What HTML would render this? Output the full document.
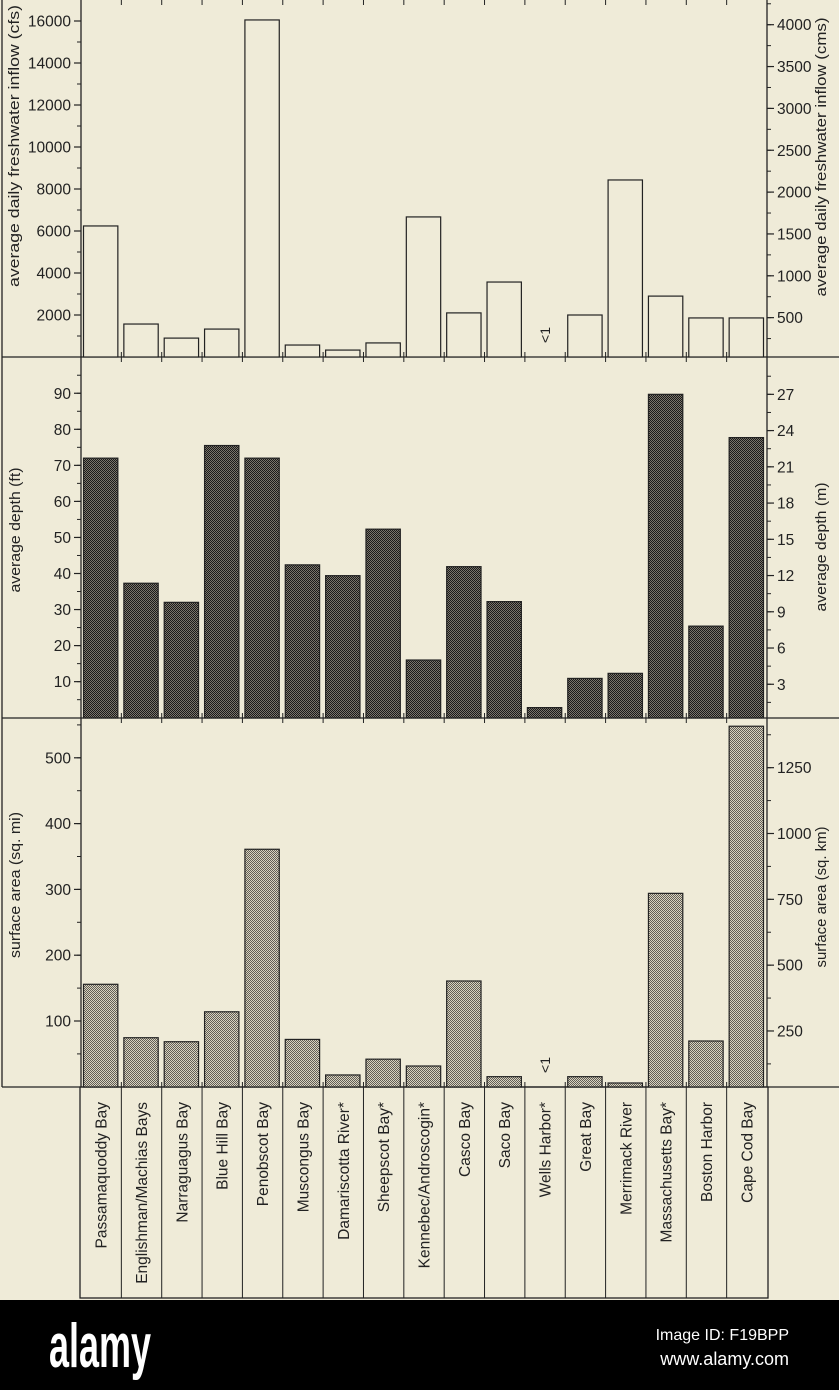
<!DOCTYPE html>
<html><head><meta charset="utf-8">
<style>
body{margin:0;background:#efebd8;}
svg{display:block;font-family:"Liberation Sans",Arial,sans-serif;}
</style></head>
<body>
<svg id="chart" width="839" height="1390" viewBox="0 0 839 1390" xmlns="http://www.w3.org/2000/svg">
<defs>
<pattern id="darkPat" width="2" height="2" patternUnits="userSpaceOnUse"><rect width="2" height="2" fill="#7a756b"/><rect width="1" height="1" fill="#1a1a1a"/><rect x="1" y="1" width="1" height="1" fill="#1a1a1a"/></pattern>
<pattern id="lightPat" width="2" height="2" patternUnits="userSpaceOnUse"><rect width="2" height="2" fill="#d8d3c0"/><rect width="1" height="1" fill="#625e56"/><rect x="1" y="1" width="1" height="1" fill="#625e56"/></pattern>
</defs>
<rect x="0" y="0" width="839" height="1300" fill="#efebd8"/>
<g id="frame" stroke="#222" stroke-width="1.3" fill="none">
<line x1="2" y1="0" x2="2" y2="1087"/>
<line x1="2" y1="357" x2="839" y2="357"/>
<line x1="2" y1="718" x2="839" y2="718"/>
<line x1="2" y1="1087" x2="839" y2="1087"/>
<line x1="81" y1="0" x2="81" y2="1087"/>
<line x1="767" y1="0" x2="767" y2="1087"/>
<rect x="80" y="1087" width="688" height="211"/>
</g>
<g id="panels"></g>
<g id="labels"></g>
<rect x="0" y="1300" width="839" height="90" fill="#000"/>
<text x="49" y="1367" fill="#fff" font-size="62" font-weight="bold" textLength="102" lengthAdjust="spacingAndGlyphs">alamy</text>
<text x="789" y="1340" fill="#fff" font-size="16" text-anchor="end">Image ID: F19BPP</text>
<text x="789" y="1365" fill="#fff" font-size="18" text-anchor="end">www.alamy.com</text>
</svg>
<script>
const categories = ["Passamaquoddy Bay","Englishman/Machias Bays","Narraguagus Bay","Blue Hill Bay","Penobscot Bay","Muscongus Bay","Damariscotta River*","Sheepscot Bay*","Kennebec/Androscogin*","Casco Bay","Saco Bay","Wells Harbor*","Great Bay","Merrimack River","Massachusetts Bay*","Boston Harbor","Cape Cod Bay"];
const inflowCfs = [6240,1570,900,1330,16050,570,330,670,6670,2100,3570,0,2000,8430,2900,1860,1860];
const depthFt = [72,37.3,32,75.5,72,42.4,39.4,52.3,16,41.9,32.2,2.8,10.9,12.3,89.7,25.4,77.7];
const areaSqMi = [155.8,74.6,68.5,114,361,72,18,42,31.6,160.8,15.4,0,15.4,5.8,294,69.6,548];
const inflowLeftTicks = [2000,4000,6000,8000,10000,12000,14000,16000];
const inflowRightTicks = [500,1000,1500,2000,2500,3000,3500,4000];
const depthLeftTicks = [10,20,30,40,50,60,70,80,90];
const depthRightTicks = [3,6,9,12,15,18,21,24,27];
const areaLeftTicks = [100,200,300,400,500];
const areaRightTicks = [250,500,750,1000,1250];

const NS="http://www.w3.org/2000/svg";
const X0=81, X1=767, N=categories.length, CW=(X1-X0)/N;
const xBand = i => X0 + i*CW;
function mk(tag, attrs, parent){const e=document.createElementNS(NS,tag);for(const k in attrs)e.setAttribute(k,attrs[k]);parent.appendChild(e);return e;}
const panelsG=document.getElementById('panels');

const panels=[
 {name:'inflow',top:0,base:357,vals:inflowCfs,lScale:0.021,lZero:357,rScale:0.0837,rZero:359.5,lT:inflowLeftTicks,lMinor:1000,lMax:17000,rT:inflowRightTicks,rMinor:250,rMax:4250,fill:'#efebd8',lTitle:'average daily freshwater inflow (cfs)',rTitle:'average daily freshwater inflow (cms)',lTx:19,rTx:826,lC:146,lL:282,rC:157,rL:279},
 {name:'depth',top:357,base:718,vals:depthFt,lScale:3.605,lZero:717.7,rScale:12.08,rZero:720.5,lT:depthLeftTicks,lMinor:5,lMax:95,rT:depthRightTicks,rMinor:1.5,rMax:28.5,fill:'url(#darkPat)',lTitle:'average depth (ft)',rTitle:'average depth (m)',lTx:20,rTx:826,lC:530,lL:125,rC:547,rL:129},
 {name:'area',top:718,base:1087,vals:areaSqMi,lScale:0.658,lZero:1086.8,rScale:0.2633,rZero:1096.8,lT:areaLeftTicks,lMinor:50,lMax:550,rT:areaRightTicks,rMinor:125,rMax:1375,fill:'url(#lightPat)',lTitle:'surface area (sq. mi)',rTitle:'surface area (sq. km)',lTx:20,rTx:826,lC:885,lL:146,rC:897,rL:141}
];

panels.forEach(p=>{
 const g=mk('g',{},panelsG);
 
 
 const yL=v=>p.lZero - v*p.lScale;
 const yR=v=>p.rZero - v*p.rScale;
 p.vals.forEach((v,i)=>{
  const x=xBand(i)+2.5, w=CW-6;
  if(v>0){
   const r=mk('rect',{x:x,y:yL(v),width:w,height:p.base-yL(v),fill:p.fill,stroke:'#222','stroke-width':1.2},g);
   
   
  } else {
   const t=mk('text',{x:0,y:0,'font-size':14,fill:'#222','text-anchor':'middle',transform:`translate(${xBand(i)+CW/2+5},${p.base-22}) rotate(-90)`},g);
   t.textContent='<1';
   
   
  }
 });
 for(let i=1;i<N;i++){
  mk('line',{x1:xBand(i),x2:xBand(i),y1:p.top,y2:p.top+5,stroke:'#222','stroke-width':1},g);
  mk('line',{x1:xBand(i),x2:xBand(i),y1:p.base,y2:p.base-5,stroke:'#222','stroke-width':1},g);
 }
 for(let v=p.lMinor; v<=p.lMax; v+=p.lMinor){
  const y=yL(v); if(y<p.top+2) continue;
  mk('line',{x1:X0-4,x2:X0,y1:y,y2:y,stroke:'#222','stroke-width':1},g);
 }
 p.lT.forEach(v=>{
  const y=yL(v);
  mk('line',{x1:X0-7,x2:X0,y1:y,y2:y,stroke:'#222','stroke-width':1.2},g);
  const t=mk('text',{x:X0-10,y:y+5.5,'font-size':15.5,'text-anchor':'end',fill:'#222'},g);
  t.textContent=v;
  
  
 });
 for(let v=p.rMinor; v<=p.rMax; v+=p.rMinor){
  const y=yR(v); if(y<p.top+2||y>p.base-2) continue;
  mk('line',{x1:X1,x2:X1+4,y1:y,y2:y,stroke:'#222','stroke-width':1},g);
 }
 p.rT.forEach(v=>{
  const y=yR(v);
  mk('line',{x1:X1,x2:X1+7,y1:y,y2:y,stroke:'#222','stroke-width':1.2},g);
  const t=mk('text',{x:X1+10,y:y+5.5,'font-size':15.5,fill:'#222'},g);
  t.textContent=v;
  
  
 });
 const lt=mk('text',{x:0,y:0,'font-size':15,'text-anchor':'middle',fill:'#222',textLength:p.lL,lengthAdjust:'spacingAndGlyphs',transform:`translate(${p.lTx},${p.lC}) rotate(-90)`},g);
 lt.textContent=p.lTitle;
 
 
 const rt=mk('text',{x:0,y:0,'font-size':15,'text-anchor':'middle',fill:'#222',textLength:p.rL,lengthAdjust:'spacingAndGlyphs',transform:`translate(${p.rTx},${p.rC}) rotate(-90)`},g);
 rt.textContent=p.rTitle;
 
 
});

const labG=document.getElementById('labels');
categories.forEach((c,i)=>{
 if(i>0) mk('line',{x1:xBand(i),x2:xBand(i),y1:1087,y2:1298,stroke:'#222','stroke-width':1},labG);
 const t=mk('text',{x:0,y:0,'font-size':15.5,'text-anchor':'end',fill:'#222',transform:`translate(${xBand(i)+CW/2+5.5},1102) rotate(-90)`},labG);
 t.textContent=c;
 
 
});
</script>
</body></html>
